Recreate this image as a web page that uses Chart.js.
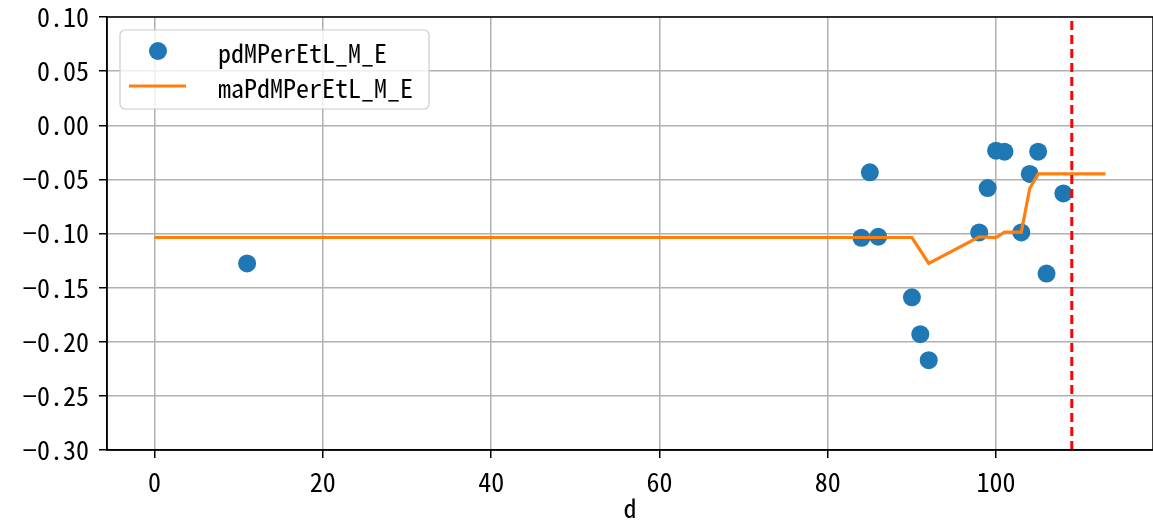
<!DOCTYPE html>
<html>
<head>
<meta charset="utf-8">
<script src="https://cdn.jsdelivr.net/npm/chart.js@4.4.0/dist/chart.umd.min.js"></script>
<style>
    html, body { margin: 0; padding: 0; background: #fff; }
    #wrap { width: 1153px; height: 521px; }
</style>
</head>
<body>
<div id="wrap"><canvas id="chart" width="1153" height="521"></canvas></div>
<script>
    // pdMPerEtL_M_E points
    const pointX = [11, 84, 85, 86, 90, 91, 92, 98, 99, 100, 101, 103, 104, 105, 106, 108];
    const pointY = [-0.1276, -0.104, -0.0435, -0.103, -0.159, -0.193, -0.217, -0.099, -0.058, -0.0235, -0.0244, -0.099, -0.045, -0.0244, -0.137, -0.063];

    // maPdMPerEtL_M_E line
    const maX = [0, 90, 92, 98, 100, 101, 103, 104, 105, 113];
    const maY = [-0.1037, -0.1037, -0.1277, -0.103, -0.1037, -0.0988, -0.0988, -0.0585, -0.045, -0.045];

    const markerX = 109;
    const xTicks = [0, 20, 40, 60, 80, 100];
    const yTicks = [-0.30, -0.25, -0.20, -0.15, -0.10, -0.05, 0.00, 0.05, 0.10];
    const seriesNames = ['pdMPerEtL_M_E', 'maPdMPerEtL_M_E'];

    const FONT = '"Noto Sans Mono CJK SC", "DejaVu Sans Mono", monospace';
    const FSIZE = 26;

    const toXY = (xs, ys) => xs.map((x, i) => ({ x: x, y: ys[i] }));

    // top/right spines + legend box, matplotlib style
    const framePlugin = {
        id: 'frame',
        afterDraw(chart) {
            const { ctx, chartArea: a } = chart;
            ctx.save();
            ctx.strokeStyle = '#000';
            ctx.lineWidth = 1.5;
            ctx.strokeRect(a.left, a.top, a.right - a.left, a.bottom - a.top);

            // legend
            const bx = 120, by = 30, bw = 309, bh = 79, r = 5;
            ctx.beginPath();
            ctx.roundRect(bx, by, bw, bh, r);
            ctx.fillStyle = 'rgba(255,255,255,0.8)';
            ctx.fill();
            ctx.strokeStyle = '#cccccc';
            ctx.lineWidth = 1.2;
            ctx.stroke();

            ctx.beginPath();
            ctx.arc(158, 51, 9, 0, Math.PI * 2);
            ctx.fillStyle = '#1f77b4';
            ctx.fill();

            ctx.beginPath();
            ctx.moveTo(129, 86);
            ctx.lineTo(186, 86);
            ctx.strokeStyle = '#ff7f0e';
            ctx.lineWidth = 3;
            ctx.stroke();

            ctx.fillStyle = '#000';
            ctx.font = FSIZE + 'px ' + FONT;
            ctx.textBaseline = 'middle';
            ctx.fillText(seriesNames[0], 218, 53);
            ctx.fillText(seriesNames[1], 218, 88);
            ctx.restore();
        }
    };

    new Chart(document.getElementById('chart').getContext('2d'), {
        type: 'scatter',
        data: {
            datasets: [
                {
                    label: seriesNames[0],
                    data: toXY(pointX, pointY),
                    backgroundColor: '#1f77b4',
                    borderColor: '#1f77b4',
                    pointRadius: 9,
                    pointBorderWidth: 0,
                    showLine: false,
                    order: 2
                },
                {
                    label: seriesNames[1],
                    data: toXY(maX, maY),
                    borderColor: '#ff7f0e',
                    borderWidth: 3.2,
                    pointRadius: 0,
                    showLine: true,
                    order: 1
                },
                {
                    label: 'marker',
                    data: [{ x: markerX, y: -0.30 }, { x: markerX, y: 0.10 }],
                    borderColor: '#ff0000',
                    borderWidth: 3,
                    borderDash: [9, 5],
                    pointRadius: 0,
                    showLine: true,
                    order: 0
                }
            ]
        },
        options: {
            responsive: false,
            animation: false,
            layout: { autoPadding: false, padding: { top: 17, right: 0, left: 0, bottom: 0 } },
            plugins: {
                legend: { display: false },
                tooltip: { enabled: false }
            },
            scales: {
                x: {
                    type: 'linear',
                    min: -5.65,
                    max: 118.65,
                    afterBuildTicks: s => { s.ticks = xTicks.map(v => ({ value: v })); },
                    afterFit: s => { s.height = 71; s.paddingLeft = 0; s.paddingRight = 0; },
                    grid: { color: '#b0b0b0', lineWidth: 1.5, tickColor: '#000', tickLength: 8 },
                    border: { color: '#000', width: 1.5 },
                    ticks: { color: '#000', font: { family: FONT, size: FSIZE }, padding: 9, maxRotation: 0 },
                    title: { display: true, text: 'd', color: '#000', font: { family: FONT, size: FSIZE }, padding: { top: 0, bottom: -3 } }
                },
                y: {
                    min: -0.30,
                    max: 0.10,
                    afterBuildTicks: s => { s.ticks = yTicks.map(v => ({ value: v })); },
                    afterFit: s => { s.width = 107; s.paddingTop = 0; s.paddingBottom = 0; },
                    grid: { color: '#b0b0b0', lineWidth: 1.5, tickColor: '#000', tickLength: 8 },
                    border: { color: '#000', width: 1.5 },
                    ticks: {
                        color: '#000',
                        font: { family: FONT, size: FSIZE },
                        padding: 10,
                        callback: v => (v < 0 ? '\u2212' : '') + Math.abs(v).toFixed(2)
                    }
                }
            }
        },
        plugins: [framePlugin]
    });
</script>
</body>
</html>
